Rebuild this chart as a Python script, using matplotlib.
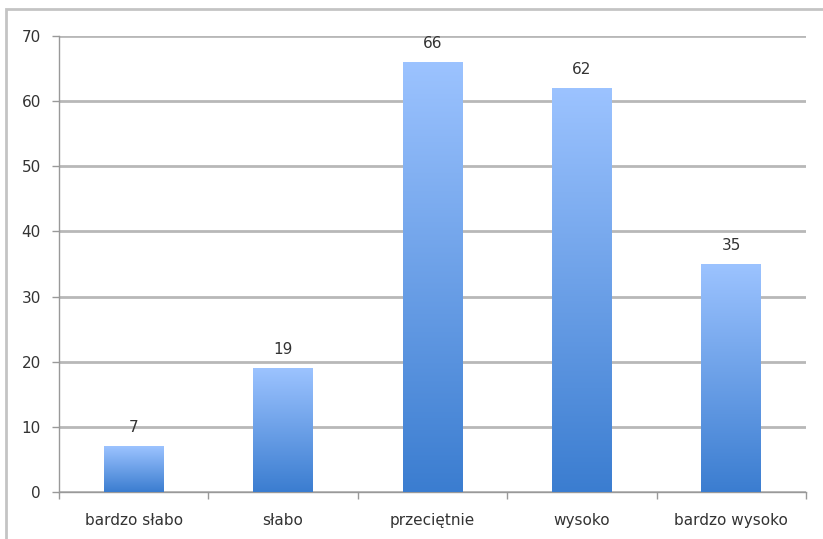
import matplotlib
matplotlib.use("Agg")
import matplotlib.pyplot as plt
import numpy as np
from matplotlib.colors import LinearSegmentedColormap
from matplotlib.patches import Rectangle

categories = ["bardzo słabo", "słabo", "przeciętnie", "wysoko", "bardzo wysoko"]
values = [7, 19, 66, 62, 35]
yticks = [0, 10, 20, 30, 40, 50, 60, 70]

fig = plt.figure(figsize=(8.23, 5.39), dpi=100)
ax = fig.add_axes([59/823, 1-492/539, (806-59)/823, (492-36)/539])

# figure border
fig.patches.append(Rectangle((6/823, -0.1), 1.2, 1-9/539+0.1, transform=fig.transFigure,
                             fill=False, edgecolor="#c4c4c4", linewidth=2, zorder=0))

cmap = LinearSegmentedColormap.from_list("g", ["#3b7dd0", "#9cc3ff"])
grad = np.linspace(0, 1, 256).reshape(-1, 1)
x = np.arange(len(categories))
width = 0.4
for xi, v in zip(x, values):
    ax.imshow(grad, cmap=cmap, origin="lower", aspect="auto",
              extent=(xi - width/2, xi + width/2, 0, v), zorder=3)
    ax.annotate(str(v), (xi, v), xytext=(0, 8), textcoords="offset points",
                ha="center", va="bottom", fontsize=11, color="#333333")

ax.set_xlim(-0.5, len(categories) - 0.5)
ax.set_ylim(0, 70)
ax.set_yticks(yticks)
ax.set_yticklabels([str(t) for t in yticks], fontsize=11, color="#333333")
ax.set_xticks(x)
ax.set_xticklabels(categories, fontsize=11, color="#333333")
ax.set_xticks(np.arange(len(categories) + 1) - 0.5, minor=True)
ax.tick_params(axis="x", which="major", length=0, pad=15)
ax.tick_params(axis="x", which="minor", length=5, color="#999999", width=1)
ax.tick_params(axis="y", length=5, color="#999999", width=1, pad=8)

ax.grid(axis="y", color="#b8b8b8", linewidth=2, zorder=0)
ax.set_axisbelow(True)
for s in ["top", "right"]:
    ax.spines[s].set_visible(False)
ax.spines["left"].set_color("#999999")
ax.spines["bottom"].set_color("#999999")
ax.spines["left"].set_linewidth(1)
ax.spines["bottom"].set_linewidth(1)

fig.savefig("out.png", dpi=100)
